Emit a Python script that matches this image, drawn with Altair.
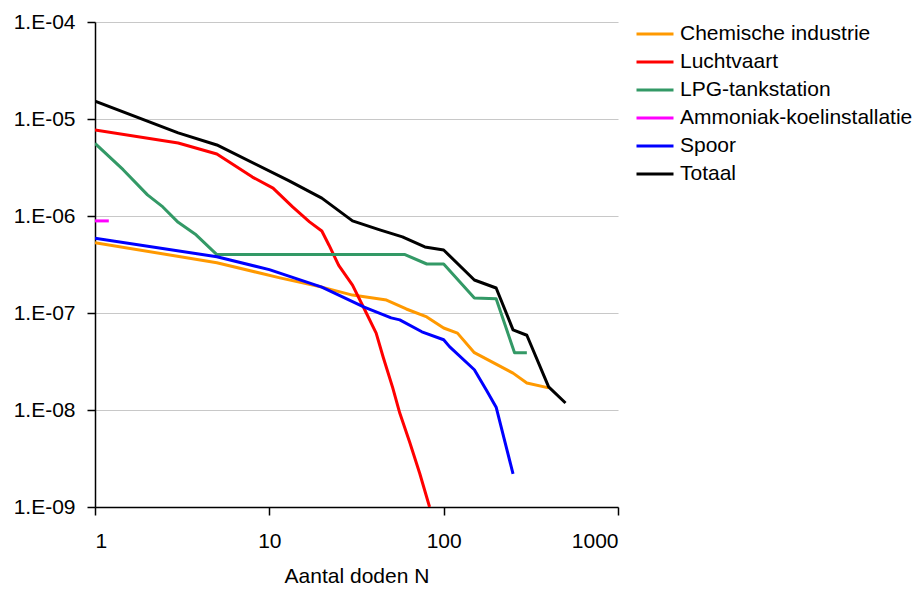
import altair as alt
import pandas as pd

series_names = ["Chemische industrie", "Luchtvaart", "LPG-tankstation",
                "Ammoniak-koelinstallatie", "Spoor", "Totaal"]
series_colors = ["#FF9900", "#FF0000", "#339966", "#FF00FF", "#0000FF", "#000000"]

chem_N = [1, 5, 11.5, 20, 30, 47, 61, 80, 100, 120, 150, 250, 300, 400]
chem_f = [5.3e-7, 3.3e-7, 2.3e-7, 1.85e-7, 1.53e-7, 1.36e-7, 1.1e-7, 9.1e-8,
          7.0e-8, 6.2e-8, 3.9e-8, 2.4e-8, 1.9e-8, 1.69e-8]

lucht_N = [1, 3, 5, 8, 10.5, 13.6, 17, 20, 22, 25, 30, 36, 41, 45, 51, 56, 64, 73, 83]
lucht_f = [7.7e-6, 5.66e-6, 4.36e-6, 2.52e-6, 1.94e-6, 1.24e-6, 8.7e-7, 7.0e-7,
           5.0e-7, 3.1e-7, 1.94e-7, 1.0e-7, 6.2e-8, 3.5e-8, 1.7e-8, 9.3e-9,
           4.6e-9, 2.2e-9, 1.0e-9]

lpg_N = [1, 1.45, 2, 2.45, 3, 3.8, 5, 60, 80, 100, 150, 200, 255, 300]
lpg_f = [5.6e-6, 3.0e-6, 1.65e-6, 1.24e-6, 8.6e-7, 6.4e-7, 4.0e-7, 4.0e-7,
         3.2e-7, 3.2e-7, 1.43e-7, 1.4e-7, 3.9e-8, 3.9e-8]

ammo_N = [1, 1.2]
ammo_f = [8.9e-7, 8.9e-7]

spoor_N = [1, 5, 10, 20, 35, 50, 56, 75, 100, 108, 150, 176, 200, 250]
spoor_f = [5.9e-7, 3.8e-7, 2.8e-7, 1.85e-7, 1.15e-7, 8.9e-8, 8.5e-8, 6.4e-8,
           5.3e-8, 4.5e-8, 2.6e-8, 1.6e-8, 1.07e-8, 2.2e-9]

totaal_N = [1, 3, 5, 13, 20, 30, 43, 58, 78, 100, 150, 200, 250, 300, 400, 500]
totaal_f = [1.53e-5, 7.2e-6, 5.4e-6, 2.3e-6, 1.53e-6, 8.9e-7, 7.2e-7, 6.1e-7,
            4.8e-7, 4.46e-7, 2.19e-7, 1.81e-7, 6.7e-8, 5.9e-8, 1.73e-8, 1.18e-8]

x_ticks = [1, 10, 100, 1000]
y_ticks = [1e-9, 1e-8, 1e-7, 1e-6, 1e-5, 1e-4]

all_N = [chem_N, lucht_N, lpg_N, ammo_N, spoor_N, totaal_N]
all_f = [chem_f, lucht_f, lpg_f, ammo_f, spoor_f, totaal_f]

rows = []
for name, ns, fs in zip(series_names, all_N, all_f):
    for i, (n, f) in enumerate(zip(ns, fs)):
        rows.append({"serie": name, "N": n, "f": f, "idx": i})
df = pd.DataFrame(rows)

FONT = "Liberation Sans"

chart = alt.Chart(df).mark_line(strokeWidth=3, clip=True, strokeJoin="round").encode(
    x=alt.X("N:Q",
            scale=alt.Scale(type="log", domain=[1, 1000]),
            axis=alt.Axis(values=x_ticks, title="Aantal doden N",
                          labelExpr="format(datum.value, 'd')",
                          grid=False, tickSize=8, labelPadding=15,
                          titleY=75, titleBaseline="alphabetic")),
    y=alt.Y("f:Q",
            scale=alt.Scale(type="log", domain=[1e-9, 1e-4]),
            axis=alt.Axis(values=y_ticks, title=None,
                          labelExpr="'1.E-0' + format(-round(log(datum.value)/LN10), 'd')",
                          grid=True, gridColor="#c8c8c8", gridWidth=1.2,
                          tickSize=8, labelPadding=12)),
    color=alt.Color("serie:N",
                    scale=alt.Scale(domain=series_names, range=series_colors),
                    legend=alt.Legend(title=None, orient="none", legendX=540, legendY=-2,
                                      symbolType="stroke", symbolSize=1369,
                                      symbolStrokeWidth=3, labelFont=FONT,
                                      labelFontSize=21, labelColor="black",
                                      labelOffset=5, clipHeight=28, rowPadding=0,
                                      padding=0, labelLimit=400)),
    order="idx:Q",
).properties(
    width=523, height=485,
    autosize=alt.AutoSizeParams(type="none"),
    padding={"left": 87, "top": 14, "right": 295, "bottom": 79},
).configure_view(stroke=None).configure_axis(
    domainColor="black", tickColor="black", domainWidth=1.5, tickWidth=1.5,
    labelColor="black", labelFont=FONT, labelFontSize=21,
    titleColor="black", titleFont=FONT, titleFontSize=21, titleFontWeight="normal",
)

chart.save("out.html", embed_options={"renderer": "svg", "actions": False})
